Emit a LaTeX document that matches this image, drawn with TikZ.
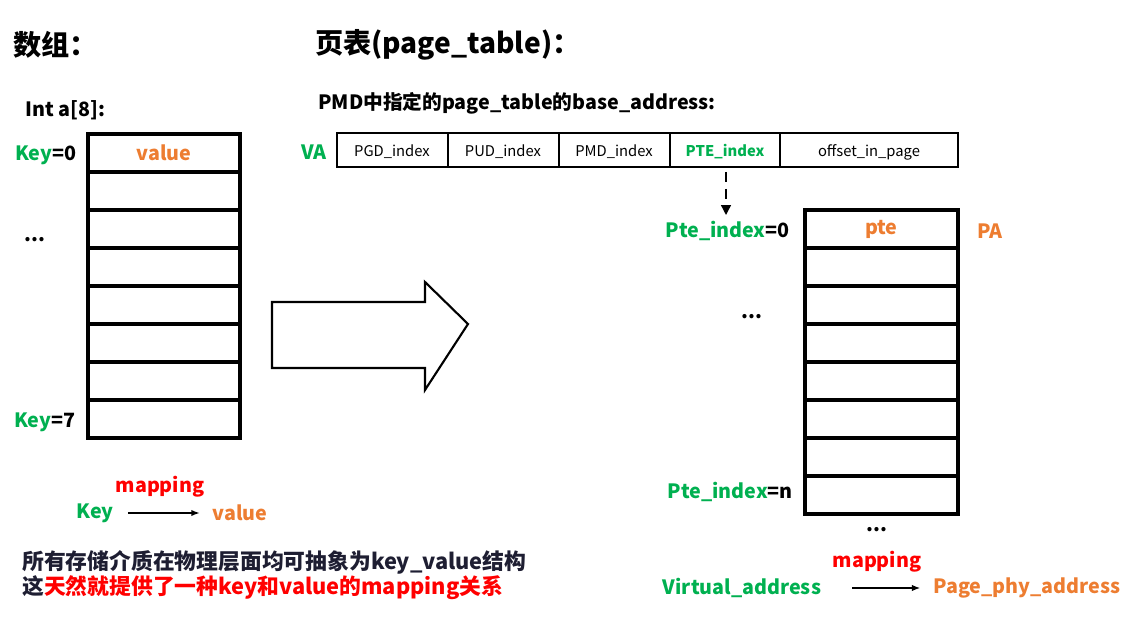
\documentclass[tikz,border=0pt]{standalone}
\usepackage{fontspec}
\setmainfont{Noto Sans CJK SC}
\usetikzlibrary{arrows.meta,positioning}
\definecolor{keygreen}{RGB}{0,176,80}
\definecolor{valorange}{RGB}{237,125,49}
\definecolor{mapred}{RGB}{255,0,0}
\definecolor{navy}{RGB}{30,30,50}
\begin{document}
\begin{tikzpicture}[x=0.025cm,y=-0.025cm]
        \tikzset{txt/.style={font=\bfseries\fontsize{14}{16}\selectfont, inner sep=0pt}}
        \tikzset{field/.style={font=\fontsize{10.5}{12}\selectfont}}
        \tikzset{line/.style={draw, line width=1pt, -{Latex[length=6pt]}}}
        \useasboundingbox (0,0) rectangle (1131,622);

        \node [txt, anchor=west, font=\bfseries\fontsize{20}{24}\selectfont] (arrtitle) at (13,45) {数组：};
        \node [txt, anchor=west, font=\bfseries\fontsize{20}{24}\selectfont] (pttitle) at (315,45) {页表(page\_table)：};
        \node [txt, anchor=west] (decl) at (25,110) {Int a[8]:};
        \node [txt, anchor=west] (pmd) at (318,103) {PMD中指定的page\_table的base\_address:};

        % array a[8]
        \foreach \i in {0,...,7}
            \draw [line width=2.2pt] (88,{134+38*\i}) rectangle (240,{172+38*\i}) node [midway] (a\i) {};
        \node [txt, text=valorange] at (a0) {value};
        \node [txt, anchor=west] (k0) at (15,155) {\textcolor{keygreen}{Key}=0};
        \node [txt, anchor=west] (kd) at (24,240) {...};
        \node [txt, anchor=west] (k7) at (14,422) {\textcolor{keygreen}{Key}=7};

        \node [txt, text=keygreen] (key) at (95,513) {Key};
        \node [txt, text=valorange] (val) at (240,513) {value};
        \node [txt, text=mapred] (map1) at (160,487) {mapping};
        \path [line, shorten <=10pt, shorten >=9pt] (key) -- (val);

        \node [txt, anchor=west, text=navy, font=\bfseries\fontsize{15.5}{18}\selectfont] (note1) at (22,562) {所有存储介质在物理层面均可抽象为key\_value结构};
        \node [txt, anchor=west, text=navy, font=\bfseries\fontsize{15.5}{18}\selectfont] (note2) at (22,588) {这\textcolor{mapred}{天然就提供了一种key和value的mapping关系}};

        % big arrow
        \draw [line width=1.5pt] (272,302) -- (425,302) -- (425,282) -- (468,324) -- (425,390) -- (425,368) -- (272,368) -- cycle;

        % virtual address
        \node [txt, anchor=west, text=keygreen] (va) at (301,152) {VA};
        \draw [line width=1pt] (337,133) rectangle (958,167);
        \foreach \x in {448,559,670,780}
            \draw [line width=1pt] (\x,133) -- (\x,167);
        \node [field] (pgd) at (392,152) {PGD\_index};
        \node [field] (pud) at (503,152) {PUD\_index};
        \node [field] (pmdi) at (614,152) {PMD\_index};
        \node [field, font=\bfseries\fontsize{10.5}{12}\selectfont, text=keygreen] (pte) at (725,152) {PTE\_index};
        \node [field] (off) at (869,152) {offset\_in\_page};
        \coordinate (ptetip) at (726,215);
        \draw [line width=1pt, dash pattern=on 7pt off 5pt, -{Triangle[length=7pt,width=7pt]}] (726,172) -- (ptetip);

        % page table
        \foreach \i in {0,...,7}
            \draw [line width=2.2pt] (805,{210+38*\i}) rectangle (958,{248+38*\i}) node [midway] (p\i) {};
        \node [txt, text=valorange] at (p0) {pte};
        \node [txt, text=valorange, anchor=west] (pa) at (977,231) {PA};
        \node [txt, anchor=east] (pi0) at (790,231) {\textcolor{keygreen}{Pte\_index}=0};
        \node [txt] (pd1) at (752,317) {...};
        \node [txt, anchor=east] (pin) at (793,492) {\textcolor{keygreen}{Pte\_index}=n};
        \node [txt] (pd2) at (877,530) {...};

        \node [txt, text=mapred] (map2) at (877,562) {mapping};
        \node [txt, text=keygreen] (vaddr) at (742,588) {Virtual\_address};
        \node [txt, text=valorange, anchor=west] (paddr) at (933,588) {Page\_phy\_address};
        \path [line, shorten <=22pt, shorten >=9pt] (vaddr.east) -- (paddr.west);
\end{tikzpicture}
\end{document}
